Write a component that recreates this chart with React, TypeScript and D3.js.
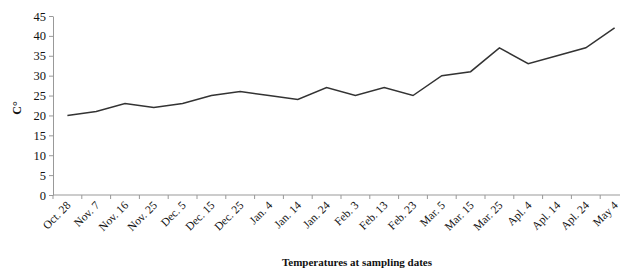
import React, { useEffect, useRef } from "react";
import * as d3 from "d3";

const dates = [
  "Oct. 28", "Nov. 7", "Nov. 16", "Nov. 25", "Dec. 5", "Dec. 15", "Dec. 25",
  "Jan. 4", "Jan. 14", "Jan. 24", "Feb. 3", "Feb. 13", "Feb. 23", "Mar. 5",
  "Mar. 15", "Mar. 25", "Apl. 4", "Apl. 14", "Apl. 24", "May 4",
];
const temps = [20, 21, 23, 22, 23, 25, 26, 25, 24, 27, 25, 27, 25, 30, 31, 37, 33, 35, 37, 42];
const yTicks = [0, 5, 10, 15, 20, 25, 30, 35, 40, 45];

const App = () => {
  const ref = useRef<SVGSVGElement>(null);

  useEffect(() => {
    const margin = { top: 16, left: 53 };
    const width = 576;
    const height = 179;
    const svg = d3.select(ref.current);
    svg.selectAll("*").remove();
    const g = svg.append("g").attr("transform", `translate(${margin.left},${margin.top})`);

    const x = d3.scaleBand().domain(dates).range([0, width]);
    const y = d3.scaleLinear().domain([0, 45]).range([height, 0]);
    const font = "'Liberation Serif', serif";

    // y axis
    const ya = g.append("g").call(d3.axisLeft(y).tickValues(yTicks).tickSize(4).tickSizeOuter(0));
    ya.select(".domain").attr("stroke", "#999");
    ya.selectAll(".tick line").attr("stroke", "#999");
    ya.selectAll(".tick text").attr("font-family", font).attr("font-size", 12.5).attr("fill", "#111").attr("x", -7);

    // x axis, ticks between categories
    const xa = g.append("g").attr("transform", `translate(0,${height})`);
    xa.append("line").attr("x1", 0).attr("x2", width).attr("stroke", "#999");
    xa.selectAll("line.tk")
      .data(d3.range(dates.length + 1))
      .enter()
      .append("line")
      .attr("class", "tk")
      .attr("x1", (i) => i * x.step())
      .attr("x2", (i) => i * x.step())
      .attr("y1", 0)
      .attr("y2", 4)
      .attr("stroke", "#999");
    xa.selectAll("text")
      .data(dates)
      .enter()
      .append("text")
      .attr("transform", (d) => `translate(${(x(d) ?? 0) + x.bandwidth() / 2 + 4},${11}) rotate(-45)`)
      .attr("text-anchor", "end")
      .attr("font-family", font)
      .attr("font-size", 11.5)
      .attr("fill", "#111")
      .text((d) => d);

    // line
    const line = d3
      .line<number>()
      .x((_, i) => (x(dates[i]) ?? 0) + x.bandwidth() / 2)
      .y((d) => y(d));
    g.append("path")
      .datum(temps)
      .attr("fill", "none")
      .attr("stroke", "#333")
      .attr("stroke-width", 1.5)
      .attr("d", line);

    // labels
    svg.append("text")
      .attr("x", 357)
      .attr("y", 266)
      .attr("text-anchor", "middle")
      .attr("font-family", font)
      .attr("font-weight", "bold")
      .attr("font-size", 11)
      .attr("fill", "#111")
      .text("Temperatures at sampling dates");
    svg.append("text")
      .attr("transform", "translate(21,108) rotate(-90)")
      .attr("text-anchor", "middle")
      .attr("font-family", font)
      .attr("font-weight", "bold")
      .attr("font-size", 12)
      .attr("fill", "#111")
      .text("C°");
  }, []);

  return (
    <svg ref={ref} width={620} height={269} style={{ position: "absolute", left: 0, top: 0, background: "#fff" }} />
  );
};

export default App;
